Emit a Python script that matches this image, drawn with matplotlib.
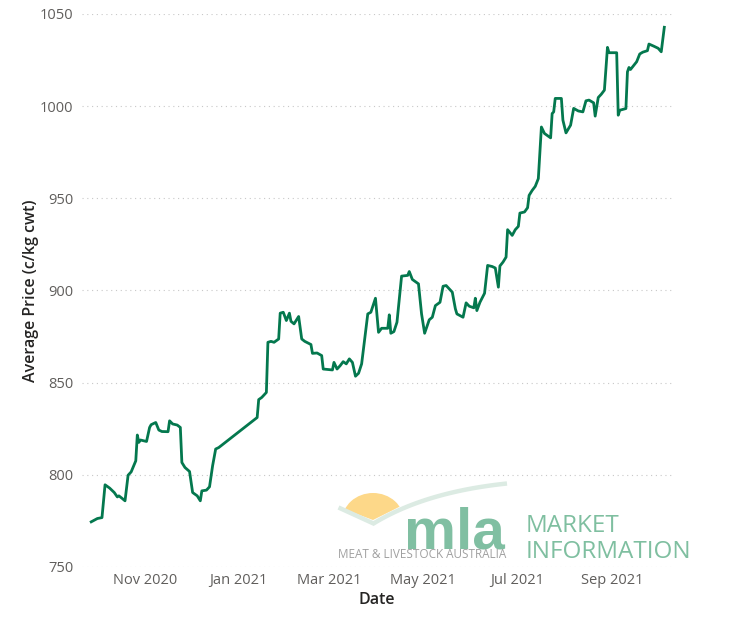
import matplotlib
matplotlib.use("Agg")
import matplotlib.pyplot as plt
import numpy as np
import pandas as pd
from matplotlib.patches import Ellipse, Polygon

# ---------------- data ----------------
dates = [
    "2020-09-27", "2020-10-01", "2020-10-04", "2020-10-06", "2020-10-09", "2020-10-12",
    "2020-10-14", "2020-10-15", "2020-10-17", "2020-10-19", "2020-10-21", "2020-10-23",
    "2020-10-26", "2020-10-27", "2020-10-28", "2020-10-29", "2020-11-02", "2020-11-04",
    "2020-11-05", "2020-11-08", "2020-11-10", "2020-11-12", "2020-11-16", "2020-11-17",
    "2020-11-19", "2020-11-22", "2020-11-24", "2020-11-25", "2020-11-27", "2020-11-30",
    "2020-12-02", "2020-12-05", "2020-12-07", "2020-12-08", "2020-12-11", "2020-12-13",
    "2020-12-15", "2020-12-17", "2020-12-19", "2021-01-13", "2021-01-14", "2021-01-16",
    "2021-01-19", "2021-01-20", "2021-01-22", "2021-01-24", "2021-01-27", "2021-01-28",
    "2021-01-30", "2021-02-01", "2021-02-03", "2021-02-04", "2021-02-06", "2021-02-09",
    "2021-02-11", "2021-02-13", "2021-02-17", "2021-02-18", "2021-02-21", "2021-02-24",
    "2021-02-25", "2021-03-03", "2021-03-04", "2021-03-06", "2021-03-08", "2021-03-10",
    "2021-03-12", "2021-03-14", "2021-03-16", "2021-03-18", "2021-03-20", "2021-03-22",
    "2021-03-26", "2021-03-28", "2021-03-31", "2021-04-02", "2021-04-04", "2021-04-08",
    "2021-04-09", "2021-04-10", "2021-04-12", "2021-04-14", "2021-04-17", "2021-04-21",
    "2021-04-22", "2021-04-24", "2021-04-28", "2021-04-30", "2021-05-02", "2021-05-05",
    "2021-05-07", "2021-05-09", "2021-05-12", "2021-05-14", "2021-05-16", "2021-05-20",
    "2021-05-22", "2021-05-23", "2021-05-27", "2021-05-29", "2021-05-31", "2021-06-03",
    "2021-06-04", "2021-06-05", "2021-06-07", "2021-06-10", "2021-06-12", "2021-06-15",
    "2021-06-17", "2021-06-19", "2021-06-20", "2021-06-22", "2021-06-24", "2021-06-25",
    "2021-06-28", "2021-06-30", "2021-07-02", "2021-07-03", "2021-07-06", "2021-07-08",
    "2021-07-09", "2021-07-11", "2021-07-13", "2021-07-15", "2021-07-17", "2021-07-19",
    "2021-07-23", "2021-07-24", "2021-07-25", "2021-07-26", "2021-07-30", "2021-07-31",
    "2021-08-02", "2021-08-05", "2021-08-07", "2021-08-10", "2021-08-13", "2021-08-15",
    "2021-08-17", "2021-08-20", "2021-08-21", "2021-08-23", "2021-08-25", "2021-08-27",
    "2021-08-29", "2021-08-30", "2021-09-04", "2021-09-05", "2021-09-06", "2021-09-10",
    "2021-09-11", "2021-09-12", "2021-09-13", "2021-09-17", "2021-09-19", "2021-09-21",
    "2021-09-24", "2021-09-25", "2021-09-28", "2021-10-01", "2021-10-03", "2021-10-05",
]
prices = [
    774.5, 776.3, 776.8, 794.6, 792.8, 790.4,
    788.0, 788.6, 787.3, 785.9, 799.8, 801.6,
    807.6, 821.6, 817.6, 818.9, 818.1, 825.7,
    827.2, 828.4, 824.3, 823.5, 823.4, 829.3,
    827.6, 827.0, 825.7, 806.7, 804.0, 801.8,
    790.4, 788.6, 785.9, 791.3, 791.7, 793.5,
    804.9, 814.0, 814.8, 831.1, 840.8, 842.0,
    844.7, 871.9, 872.4, 871.9, 873.7, 887.7,
    888.2, 883.7, 887.7, 883.3, 881.9, 885.9,
    873.7, 872.4, 870.7, 865.9, 866.1, 864.7,
    857.4, 856.9, 861.0, 857.4, 859.2, 861.4,
    860.2, 862.9, 861.0, 853.5, 855.1, 860.2,
    887.3, 888.2, 895.8, 877.3, 879.5, 879.5,
    886.8, 876.8, 877.7, 882.8, 907.8, 908.2,
    910.3, 906.0, 903.6, 887.3, 876.8, 884.1,
    885.5, 891.8, 893.6, 902.3, 902.7, 899.1,
    890.1, 887.3, 885.5, 893.3, 891.5, 890.6,
    895.8, 889.1, 893.6, 898.5, 913.6, 913.0,
    912.2, 901.8, 913.3, 915.4, 918.1, 933.0,
    929.9, 933.0, 934.8, 942.0, 942.6, 944.9,
    951.6, 954.3, 956.5, 960.7, 988.7, 985.2,
    982.8, 996.0, 996.9, 1004.2, 1004.2, 992.4,
    985.5, 989.7, 998.8, 997.4, 996.9, 1002.9,
    1003.3, 1001.8, 994.6, 1004.7, 1006.5, 1008.7,
    1031.9, 1029.0, 1029.0, 995.1, 997.8, 998.7,
    1018.6, 1021.0, 1019.9, 1024.1, 1028.3, 1029.3,
    1030.1, 1033.7, 1032.6, 1031.4, 1029.5, 1042.8,
]
y_ticks = [750, 800, 850, 900, 950, 1000, 1050]
x_tick_dates = ["2020-11-01", "2021-01-01", "2021-03-01", "2021-05-01", "2021-07-01", "2021-09-01"]
x_tick_labels = ["Nov 2020", "Jan 2021", "Mar 2021", "May 2021", "Jul 2021", "Sep 2021"]
x_range = ["2020-09-21", "2021-10-10"]
x_title = "Date"
y_title = "Average Price (c/kg cwt)"
logo_word = "mla"
logo_sub = "MEAT & LIVESTOCK AUSTRALIA"
logo_side = ["MARKET", "INFORMATION"]

# ---------------- figure ----------------
W, H = 733, 623
fig = plt.figure(figsize=(W / 100, H / 100), dpi=100)
fig.patch.set_facecolor("white")
ax = fig.add_axes([82 / W, 1 - 567 / H, 590 / W, 553 / H])

x = pd.to_datetime(dates)
ax.plot(x, prices, color="#04784E", lw=2.0, solid_joinstyle="round", zorder=3)

ax.set_ylim(750, 1050)
ax.set_xlim(pd.to_datetime(x_range[0]), pd.to_datetime(x_range[1]))
ax.set_yticks(y_ticks)
ax.set_xticks(pd.to_datetime(x_tick_dates))
ax.set_xticklabels(x_tick_labels)
for s in ax.spines.values():
    s.set_visible(False)
ax.tick_params(axis="both", length=0, colors="#605E5C", labelsize=10.5)
ax.tick_params(axis="y", pad=6)
ax.tick_params(axis="x", pad=4)
for lab in ax.get_xticklabels() + ax.get_yticklabels():
    lab.set_family("Open Sans")
ax.yaxis.grid(True, color="#C8C8C8", lw=0.8, linestyle=(0, (1, 3.3)))
ax.xaxis.grid(False)
ax.set_axisbelow(True)

ax.set_xlabel(x_title, fontsize=11.5, fontweight="semibold", family="Open Sans", color="#252423", labelpad=3)
ax.set_ylabel(y_title, fontsize=11.5, fontweight="semibold", family="Open Sans", color="#252423", labelpad=1)

# ---------------- logo overlay ----------------
ov = fig.add_axes([0, 0, 1, 1], zorder=5)
ov.set_xlim(0, W)
ov.set_ylim(H, 0)
ov.axis("off")
ov.patch.set_alpha(0)

clip = Polygon([(330, 470), (330, 504), (373, 520), (403, 505), (432, 495), (432, 470)],
               closed=True, transform=ov.transData, facecolor="none", edgecolor="none")
ov.add_patch(clip)
sun = Ellipse((373, 521), 62, 56, facecolor="#FDD889", edgecolor="none")
ov.add_patch(sun)
sun.set_clip_path(clip)

t = np.linspace(0, 1, 40)
p0, p1, p2 = np.array([373.5, 523.5]), np.array([425, 492]), np.array([507, 483.5])
curve = ((1 - t)[:, None] ** 2) * p0 + (2 * (1 - t) * t)[:, None] * p1 + (t[:, None] ** 2) * p2
bx = np.concatenate([[338.5], curve[:, 0]])
by = np.concatenate([[507.5], curve[:, 1]])
ov.plot(bx, by, color="#DCEBE3", lw=3.2, solid_capstyle="butt", solid_joinstyle="miter")

ov.text(404, 548.5, logo_word, fontsize=42, fontweight="bold", family="Liberation Sans",
        color="#80BFA2", ha="left", va="baseline")
ov.text(338, 558, logo_sub, fontsize=8.5, family="Open Sans", color="#A0A0A0",
        ha="left", va="baseline")
ov.text(526, 532, logo_side[0], fontsize=17.5, family="Open Sans", color="#7FBFA0",
        ha="left", va="baseline")
ov.text(526, 558, logo_side[1], fontsize=17.5, family="Open Sans", color="#7FBFA0",
        ha="left", va="baseline")

fig.savefig("out.png", dpi=100, facecolor="white")
